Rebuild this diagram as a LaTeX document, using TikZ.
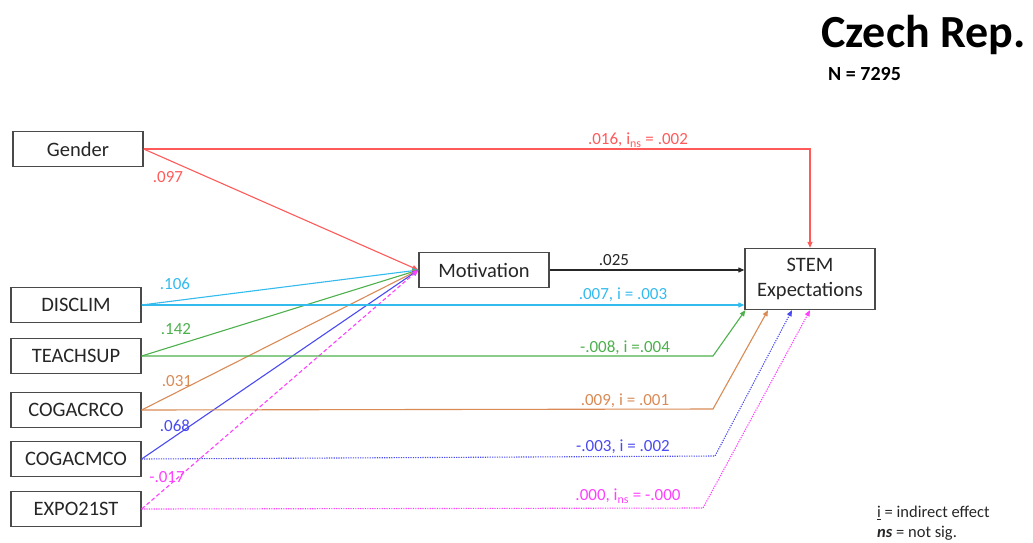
\documentclass[tikz,border=0pt]{standalone}
\usepackage{fontspec}
\setmainfont{Carlito}
\usetikzlibrary{arrows.meta}
\definecolor{cred}{HTML}{FF5A5A}
\definecolor{ccyan}{HTML}{33BBEE}
\definecolor{cgreen}{HTML}{4DB04D}
\definecolor{corange}{HTML}{D98A55}
\definecolor{cblue}{HTML}{4A4AF0}
\definecolor{cmag}{HTML}{FF40FF}
\definecolor{cbox}{HTML}{4A4A4A}
\definecolor{ctext}{HTML}{262626}
\tikzset{
  var/.style={draw=cbox, line width=1.3pt, minimum width=130pt, minimum height=35pt, inner sep=0pt,
    font=\fontsize{20.5}{24}\selectfont, text=ctext},
  lbl/.style={font=\fontsize{17}{20}\selectfont, inner sep=0pt},
  path/.style={line width=1.1pt, -{Triangle[length=6pt,width=5pt]}},
  dots/.style={dash pattern=on 1.2pt off 1.2pt},
  dsh/.style={dash pattern=on 4pt off 2.5pt}
}
\newcommand{\ul}[1]{\underline{#1}}
\begin{document}
\begin{tikzpicture}[x=1pt,y=-1pt]
\useasboundingbox (0,0) rectangle (1033,542);
% nodes
\node[var] (gender) at (78,149) {Gender};
\node[var] (disclim) at (76,305) {DISCLIM};
\node[var] (teach) at (76,356) {TEACHSUP};
\node[var] (cogr) at (76,410) {COGACRCO};
\node[var] (cogm) at (76,459) {COGACMCO};
\node[var] (expo) at (76,509) {EXPO21ST};
\node[var] (mot) at (484,270) {Motivation};
\node[var, minimum height=61pt, align=center, font=\fontsize{20.5}{25}\selectfont] (stem) at (810,279) {STEM\\Expectations};
% title
\node[anchor=base west, inner sep=0pt, font=\fontsize{46}{52}\selectfont\bfseries] (title) at (821,47) {Czech Rep.};
\node[anchor=base west, inner sep=0pt, font=\fontsize{20}{24}\selectfont\bfseries] (n) at (828,80) {N = 7295};
% corner coordinates
\coordinate (ct) at (713,356);
\coordinate (cr) at (713,409);
\coordinate (cm) at (715,456);
\coordinate (ce) at (703,508);
\coordinate (tg) at ([xshift=1pt]stem.south west);
\coordinate (tr) at ([xshift=-42pt]stem.south);
\coordinate (tm) at ([xshift=-18pt]stem.south);
\coordinate (te) at (stem.south);
% paths to motivation
\draw[path, cred] (gender.east) -- (mot.west);
\draw[path, ccyan] (disclim.east) -- (mot.west);
\draw[path, cgreen] (teach.east) -- (mot.west);
\draw[path, corange] (cogr.east) -- (mot.west);
\draw[path, cblue] (cogm.east) -- (mot.west);
\draw[path, cmag, dsh] (expo.east) -- (mot.west);
% paths to STEM
\draw[path, black!85] (mot.east) -- (mot.east -| stem.west);
\draw[path, cred] (gender.east) -| (stem.north);
\draw[path, ccyan] (disclim.east) -- (disclim.east -| stem.west);
\draw[path, cgreen] (teach.east) -- (ct) -- (tg);
\draw[path, corange] (cogr.east) -- (cr) -- (tr);
\draw[path, cblue, dots] (cogm.east) -- (cm) -- (tm);
\draw[path, cmag, dots] (expo.east) -- (ce) -- (te);
% labels
\node[lbl, text=cred] (l1) at (168,177) {.097};
\node[lbl, text=ccyan] (l2) at (175,284) {.106};
\node[lbl, text=cgreen] (l3) at (176,329) {.142};
\node[lbl, text=corange] (l4) at (177,381) {.031};
\node[lbl, text=cblue] (l5) at (175,426) {.068};
\node[lbl, text=cmag] (l6) at (167,477) {-.017};
\node[lbl, text=cred] (l7) at (638,140) {.016, i\textsubscript{ns} = .002};
\node[lbl, text=black!85] (l8) at (614,260) {.025};
\node[lbl, text=ccyan] (l9) at (623,295) {.007, i = .003};
\node[lbl, text=cgreen] (l10) at (625,348) {-.008, i =.004};
\node[lbl, text=corange] (l11) at (625,401) {.009, i = .001};
\node[lbl, text=cblue] (l12) at (623,447) {-.003, i = .002};
\node[lbl, text=cmag] (l13) at (628,496) {.000, i\textsubscript{ns} = -.000};
% legend
\node[lbl, anchor=west, text=ctext, font=\fontsize{16.5}{19}\selectfont] (leg1) at (877,513) {\ul{i} = indirect effect};
\node[lbl, anchor=west, text=ctext, font=\fontsize{16.5}{19}\selectfont] (leg2) at (877,533) {\textbf{\textit{ns}} = not sig.};
\end{tikzpicture}
\end{document}
